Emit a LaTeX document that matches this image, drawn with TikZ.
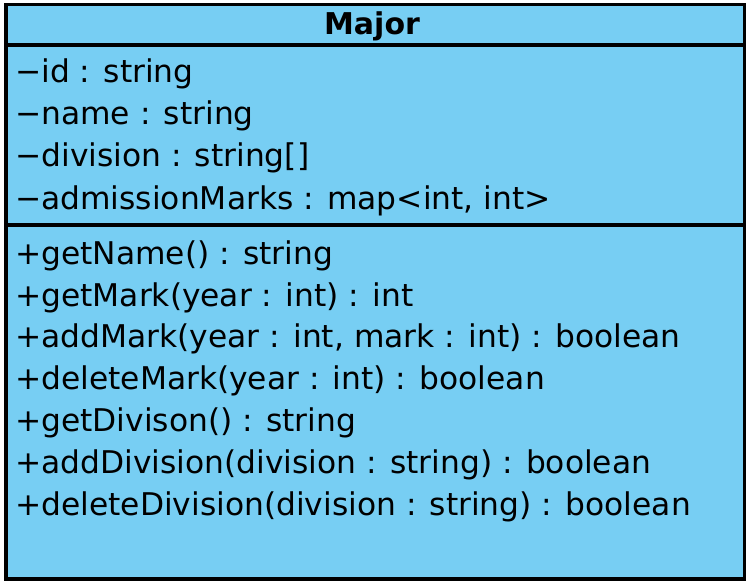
\documentclass[tikz,border=0pt]{standalone}
\usepackage{fontspec}
\setmainfont{DejaVu Sans}
\definecolor{classfill}{RGB}{119,206,243}
\begin{document}
\begin{tikzpicture}[x=1pt,y=-1pt,
  member/.style={anchor=base west,inner sep=0pt,font=\fontsize{31.3}{37}\selectfont},
  title/.style={anchor=base,inner sep=0pt,font=\fontsize{30}{36}\selectfont\bfseries},
  border/.style={line width=3.4pt}]
\useasboundingbox (0,0) rectangle (751,585);
\draw[border,fill=classfill] (6,4.5) rectangle (744.5,579);
\draw[border] (6,45) -- (744.5,45);
\draw[border] (6,225) -- (744.5,225);
\node[title] (t) at (372,35) {Major};
\node[member] (a1) at (15,83) {−id : string};
\node[member] (a2) at (15,125) {−name : string};
\node[member] (a3) at (15,167) {−division : string[]};
\node[member] (a4) at (15,209) {−admissionMarks : map<int, int>};
\node[member] (m1) at (15,264) {+getName() : string};
\node[member] (m2) at (15,306) {+getMark(year : int) : int};
\node[member] (m3) at (15,347) {+addMark(year : int, mark : int) : boolean};
\node[member] (m4) at (15,389) {+deleteMark(year : int) : boolean};
\node[member] (m5) at (15,431) {+getDivison() : string};
\node[member] (m6) at (15,473) {+addDivision(division : string) : boolean};
\node[member] (m7) at (15,515) {+deleteDivision(division : string) : boolean};
\end{tikzpicture}
\end{document}
